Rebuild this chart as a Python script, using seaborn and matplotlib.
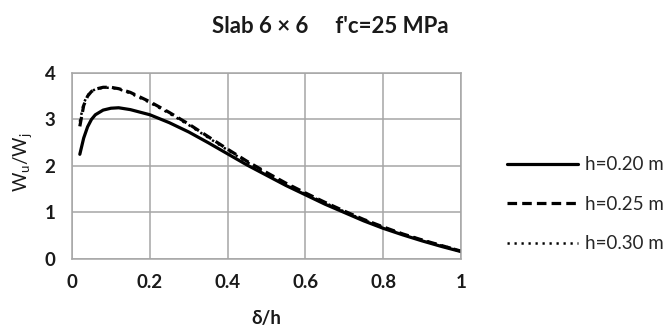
import matplotlib
matplotlib.use('Agg')
import pandas as pd
import matplotlib.pyplot as plt
import seaborn as sns

# values
delta_h = [0.02, 0.03, 0.04, 0.05, 0.06, 0.08, 0.10, 0.12, 0.15, 0.20,
           0.25, 0.30, 0.35, 0.40, 0.45, 0.50, 0.55, 0.60, 0.65, 0.70,
           0.75, 0.80, 0.85, 0.90, 0.95, 1.00]
ratio_h020 = [2.25, 2.60, 2.84, 3.00, 3.10, 3.20, 3.24, 3.25, 3.21, 3.10,
              2.93, 2.73, 2.50, 2.26, 2.02, 1.80, 1.58, 1.38, 1.18, 1.00,
              0.82, 0.66, 0.52, 0.39, 0.27, 0.16]
ratio_h025 = [2.85, 3.30, 3.50, 3.60, 3.65, 3.69, 3.69, 3.66, 3.58, 3.38,
              3.15, 2.90, 2.63, 2.36, 2.10, 1.86, 1.63, 1.42, 1.22, 1.03,
              0.85, 0.69, 0.54, 0.41, 0.29, 0.17]
ratio_h030 = [2.95, 3.35, 3.52, 3.60, 3.65, 3.68, 3.68, 3.65, 3.56, 3.36,
              3.13, 2.88, 2.61, 2.34, 2.08, 1.84, 1.61, 1.40, 1.21, 1.02,
              0.84, 0.68, 0.54, 0.41, 0.29, 0.18]
series_labels = ['h=0.20 m', 'h=0.25 m', 'h=0.30 m']
x_ticks = [0, 0.2, 0.4, 0.6, 0.8, 1.0]
x_tick_labels = ['0', '0.2', '0.4', '0.6', '0.8', '1']
y_ticks = [0, 1, 2, 3, 4]
y_tick_labels = ['0', '1', '2', '3', '4']

sns.set_style('white')
plt.rcParams['font.family'] = ['Lato', 'DejaVu Sans']
plt.rcParams['mathtext.default'] = 'regular'

fig = plt.figure(figsize=(6.67, 3.26), dpi=100)
ax = fig.add_axes([0.108, 0.2055, 0.583, 0.571])

sns.lineplot(x=delta_h, y=ratio_h020, ax=ax, color='black', lw=2.3,
             label=series_labels[0])
sns.lineplot(x=delta_h, y=ratio_h025, ax=ax, color='black', lw=2.3,
             label=series_labels[1]).lines[-1].set_dashes([3, 1.6])
sns.lineplot(x=delta_h, y=ratio_h030, ax=ax, color='black', lw=1.8,
             label=series_labels[2]).lines[-1].set_dashes([0.9, 1.9])

ax.set_xlim(0, 1)
ax.set_ylim(0, 4)
ax.set_xticks(x_ticks)
ax.set_xticklabels(x_tick_labels)
ax.set_yticks(y_ticks)
ax.set_yticklabels(y_tick_labels)
ax.tick_params(length=0, labelsize=13.5, colors='#1a1a1a')
ax.tick_params(axis='x', pad=11)
ax.tick_params(axis='y', pad=12)
for lab in ax.get_xticklabels() + ax.get_yticklabels():
    lab.set_fontweight('bold')

ax.grid(True, color='#a6a6a6', lw=1.1)
for sp in ax.spines.values():
    sp.set_color('#a6a6a6')
    sp.set_linewidth(1.1)

ax.set_xlabel('δ/h', fontsize=13.5, fontweight='bold', color='#1a1a1a', va='center')
ax.set_ylabel('W$_u$/W$_j$', fontsize=13.5, color='#1a1a1a', va='center')
ax.xaxis.set_label_coords(0.5, -0.317)
ax.yaxis.set_label_coords(-0.1285, 0.52)

fig.suptitle('Slab 6 × 6     f\'c=25 MPa', x=0.495, y=0.92, va='center',
             fontsize=16, fontweight='bold', color='#1a1a1a')

ax.get_legend().remove()
handles, labels = ax.get_legend_handles_labels()
fig.legend(handles, labels, loc='upper left', bbox_to_anchor=(0.76, 0.52),
           frameon=False, fontsize=13.5, handlelength=3.8, handletextpad=0.35,
           labelspacing=1.2, borderpad=0, borderaxespad=0)

fig.savefig('out.png', dpi=100)
